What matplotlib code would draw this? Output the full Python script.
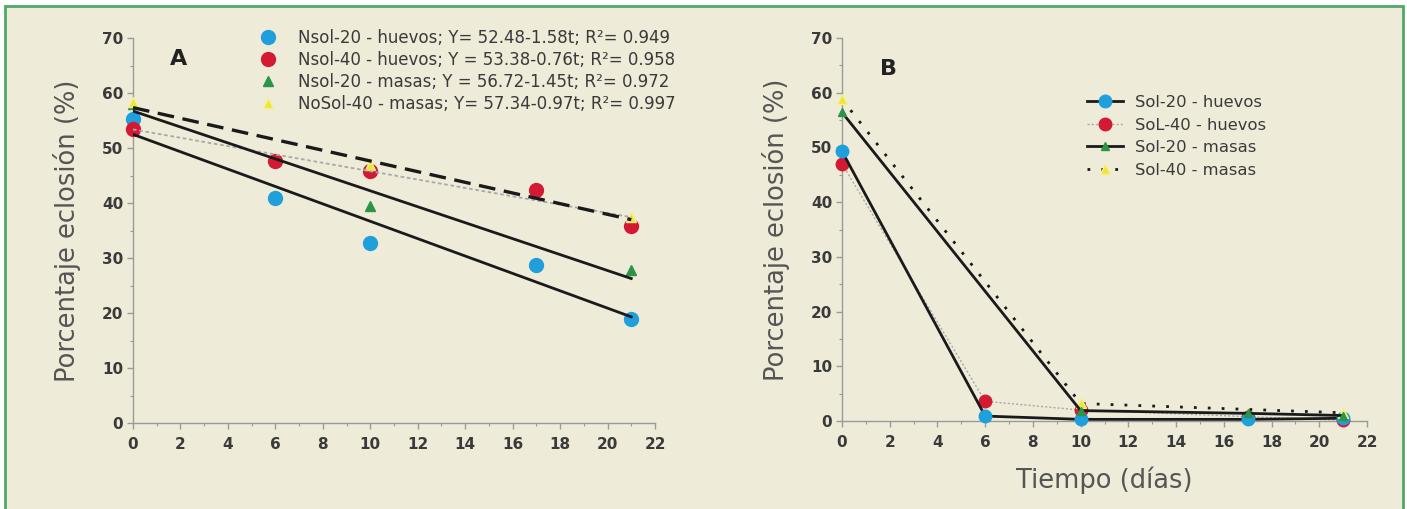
import matplotlib
matplotlib.use("Agg")
import matplotlib.pyplot as plt
from matplotlib.lines import Line2D
from matplotlib.patches import Rectangle
from matplotlib.ticker import MultipleLocator
import numpy as np

plt.rcParams['font.family'] = ['DejaVu Sans']

# ---------------- Data: panel A ----------------
a_labels = ["Nsol-20 - huevos; Y= 52.48-1.58t; R²= 0.949",
            "Nsol-40 - huevos; Y = 53.38-0.76t; R²= 0.958",
            "Nsol-20 - masas; Y = 56.72-1.45t; R²= 0.972",
            "NoSol-40 - masas; Y= 57.34-0.97t; R²= 0.997"]
a_x_blue = [0, 6, 10, 17, 21]
a_y_blue = [55.2, 40.9, 32.7, 28.8, 19.0]
a_x_red = [0, 6, 10, 17, 21]
a_y_red = [53.4, 47.6, 45.8, 42.4, 35.9]
a_x_green = [0, 10, 21]
a_y_green = [58.0, 39.4, 27.9]
a_x_yellow = [0, 10, 21]
a_y_yellow = [58.4, 46.9, 37.4]
a_intercepts = [52.48, 53.38, 56.72, 57.34]
a_slopes = [-1.58, -0.76, -1.45, -0.97]
a_fit_range = [0, 21]

# ---------------- Data: panel B ----------------
b_labels = ["Sol-20 - huevos", "SoL-40 - huevos", "Sol-20 - masas", "Sol-40 - masas"]
b_x_blue = [0, 6, 10, 17, 21]
b_y_blue = [49.3, 0.9, 0.3, 0.3, 0.5]
b_x_red = [0, 6, 10, 17, 21]
b_y_red = [47.0, 3.6, 2.0, 0.8, 0.1]
b_x_green = [0, 10, 17, 21]
b_y_green = [56.4, 1.9, 1.4, 1.0]
b_x_yellow = [0, 10, 21]
b_y_yellow = [58.8, 3.2, 1.5]

x_ticks = list(range(0, 23, 2))
y_ticks = list(range(0, 71, 10))

BLUE = "#1F9FDB"
RED = "#D41A33"
GREEN = "#2B9447"
YELLOW = "#EFE43A"
BG = "#EEEBD8"
TXT = "#3a3a3a"

fig = plt.figure(figsize=(14.07, 5.09), dpi=100)
fig.patch.set_facecolor("white")
# beige panel with green border
fig.patches.append(Rectangle((4.5/1407, -0.01), (1402.5-4.5)/1407, 1 - 5.5/509 + 0.01,
                             transform=fig.transFigure, facecolor=BG,
                             edgecolor="#4FA868", linewidth=2.0, zorder=-10))


def style_axes(ax):
    ax.set_facecolor("none")
    for s in ["top", "right"]:
        ax.spines[s].set_visible(False)
    for s in ["left", "bottom"]:
        ax.spines[s].set_color("#9a9a9a")
        ax.spines[s].set_linewidth(1.0)
    ax.set_xlim(0, 22)
    ax.set_ylim(0, 70)
    ax.set_xticks(x_ticks)
    ax.set_yticks(y_ticks)
    ax.xaxis.set_minor_locator(MultipleLocator(1))
    ax.yaxis.set_minor_locator(MultipleLocator(5))
    ax.tick_params(axis="both", which="major", direction="out", length=4, width=1,
                   color="#9a9a9a", labelsize=11, labelcolor=TXT)
    ax.tick_params(axis="both", which="minor", direction="out", length=2.5, width=0.8,
                   color="#9a9a9a")
    ax.tick_params(axis="x", which="major", pad=6)
    ax.tick_params(axis="y", which="major", pad=3)
    for lab in ax.get_xticklabels() + ax.get_yticklabels():
        lab.set_fontweight("bold")
    ax.set_ylabel("Porcentaje eclosión (%)", fontsize=18.5, color="#555555", labelpad=15)


# ---------------- Panel A ----------------
axA = fig.add_axes([133/1407, 86/509, 522/1407, 385/509])
style_axes(axA)

ms_c = 10
ms_t = 6.5
axA.plot(a_x_blue, a_y_blue, "o", color=BLUE, ms=ms_c, mec=BLUE, clip_on=False, zorder=3)
axA.plot(a_x_red, a_y_red, "o", color=RED, ms=ms_c, mec=RED, clip_on=False, zorder=3)
axA.plot(a_x_green, a_y_green, "^", color=GREEN, ms=ms_t, mec=GREEN, clip_on=False, zorder=3)
axA.plot(a_x_yellow, a_y_yellow, "^", color=YELLOW, ms=ms_t + 1, mec="#F6F08A", clip_on=False, zorder=3)

fit_x = np.array(a_fit_range, dtype=float)
fit_styles = [dict(color="#1a1a1a", lw=2.0, ls="-"),
              dict(color="#a8a8a8", lw=1.3, ls=(0, (2, 1.5))),
              dict(color="#1a1a1a", lw=2.0, ls="-"),
              dict(color="#1a1a1a", lw=2.4, ls=(0, (5, 2.6)))]
for b0, b1, st in zip(a_intercepts, a_slopes, fit_styles):
    axA.plot(fit_x, b0 + b1 * fit_x, zorder=4, **st)

hA = [Line2D([], [], ls="none", marker="o", color=BLUE, mec=BLUE, ms=ms_c),
      Line2D([], [], ls="none", marker="o", color=RED, mec=RED, ms=ms_c),
      Line2D([], [], ls="none", marker="^", color=GREEN, mec=GREEN, ms=ms_t),
      Line2D([], [], ls="none", marker="^", color=YELLOW, mec="#F6F08A", ms=ms_t + 1)]
legA = axA.legend(hA, a_labels, loc="upper left", bbox_to_anchor=(260/1407, 1 - 29/509),
                  bbox_transform=fig.transFigure, frameon=False, fontsize=12.0,
                  handlelength=1.0, handletextpad=1.25, labelspacing=0.24,
                  borderpad=0, borderaxespad=0)
for t in legA.get_texts():
    t.set_color(TXT)

axA.text(1.9, 66.2, "A", fontsize=16, fontweight="bold", color="#222222",
         ha="center", va="center")

# ---------------- Panel B ----------------
axB = fig.add_axes([842/1407, 88/509, 525/1407, 383/509])
style_axes(axB)
axB.set_xlabel("Tiempo (días)", fontsize=18.5, color="#555555", labelpad=12)

ms_b = 9
lB1, = axB.plot(b_x_red, b_y_red, ls=(0, (1.5, 1.5)), lw=1.0, color="#a8a8a8",
                marker="o", ms=ms_b, mfc=RED, mec=RED, clip_on=False, zorder=3)
lB0, = axB.plot(b_x_blue, b_y_blue, ls="-", lw=2.0, color="#1a1a1a",
                marker="o", ms=ms_b, mfc=BLUE, mec=BLUE, clip_on=False, zorder=4)
lB3, = axB.plot(b_x_yellow, b_y_yellow, ls=(0, (1, 4)), lw=2.0, color="#1a1a1a",
                marker="^", ms=7, mfc=YELLOW, mec="#F6F08A", clip_on=False, zorder=5)
lB2, = axB.plot(b_x_green, b_y_green, ls="-", lw=2.0, color="#1a1a1a",
                marker="^", ms=6, mfc=GREEN, mec=GREEN, clip_on=False, zorder=6)

legB = axB.legend([lB0, lB1, lB2, lB3], b_labels, loc="upper left",
                  bbox_to_anchor=(1087/1407, 1 - 95/509), bbox_transform=fig.transFigure,
                  frameon=False, fontsize=11.8, handlelength=2.2, handletextpad=0.7,
                  labelspacing=0.46, borderpad=0, borderaxespad=0)
for t in legB.get_texts():
    t.set_color(TXT)

axB.text(1.93, 64.3, "B", fontsize=16, fontweight="bold", color="#222222",
         ha="center", va="center")

fig.savefig("out.png", dpi=100, facecolor=fig.get_facecolor())
